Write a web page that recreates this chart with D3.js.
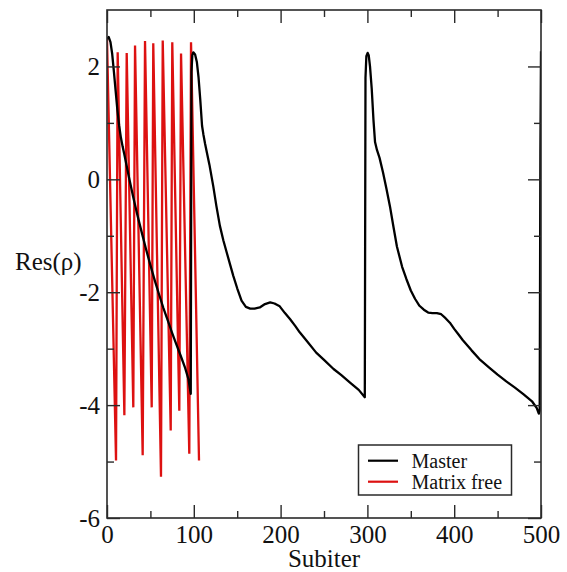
<!DOCTYPE html>
<html>
<head>
<meta charset="utf-8">
<script src="https://cdn.jsdelivr.net/npm/d3@7"></script>
<style>
  html, body { margin: 0; padding: 0; background: #fff; }
  svg { display: block; }
  text { font-family: "Liberation Serif", "Times New Roman", serif; fill: #111; }
</style>
</head>
<body>
<div id="chart"></div>
<script>
// ---- data ----
const masterX = [0, 2, 4, 6, 8, 10, 12, 14, 16, 18, 20, 25, 30, 35, 40, 45, 50, 55, 60, 65, 70, 75, 80, 85, 90, 94, 96.5,
  97.3, 98.3, 99.4, 101.5, 103.5, 105.5, 107.5, 109.5, 111, 113, 115, 118, 122.5, 126, 130, 134, 138, 142, 145.5, 150, 155, 160, 165, 170, 176, 182, 188, 193, 199, 205, 211, 217, 222, 230, 241, 250, 261, 270, 280, 290, 297,
  297.8, 298.8, 300.3, 301.5, 303, 305, 307, 308.8, 311, 314, 318, 322, 326, 330, 334, 340, 345, 350, 355, 360, 365, 370, 375, 380, 385, 390, 395, 400, 405, 410, 420, 430, 440, 450, 460, 470, 480, 490, 495, 497.5,
  498.5, 499.3, 500];
const masterY = [2.49, 2.52, 2.43, 2.22, 1.9, 1.56, 1.22, 0.95, 0.74, 0.58, 0.44, 0.06, -0.3, -0.63, -0.94, -1.24, -1.52, -1.79, -2.04, -2.28, -2.5, -2.72, -2.93, -3.13, -3.34, -3.55, -3.8,
  1.9, 2.2, 2.25, 2.21, 2.08, 1.8, 1.4, 0.95, 0.8, 0.63, 0.48, 0.26, -0.13, -0.47, -0.82, -1.08, -1.3, -1.52, -1.71, -1.93, -2.15, -2.26, -2.29, -2.29, -2.27, -2.21, -2.18, -2.2, -2.25, -2.37, -2.48, -2.6, -2.71, -2.86, -3.07, -3.2, -3.36, -3.47, -3.6, -3.73, -3.86,
  1.8, 2.18, 2.24, 2.2, 2.0, 1.6, 1.05, 0.66, 0.52, 0.38, 0.12, -0.17, -0.48, -0.84, -1.19, -1.55, -1.77, -1.97, -2.12, -2.24, -2.31, -2.36, -2.37, -2.37, -2.39, -2.46, -2.54, -2.65, -2.75, -2.85, -3.03, -3.2, -3.33, -3.46, -3.58, -3.69, -3.81, -3.94, -4.05, -4.15,
  -4.1, 0.5, 2.27];

const freeX = [0, 10.4, 12.3, 20, 22.7, 30.3, 32.3, 41.1, 43.8, 51.5, 53.3, 62.2, 64.2, 73.4, 75.2, 83.3, 85.3, 94.8, 96.8, 106];
const freeY = [2.5, -4.98, 2.25, -4.18, 2.24, -4.04, 2.37, -4.89, 2.45, -4.04, 2.41, -5.27, 2.46, -4.45, 2.43, -4.1, 2.23, -4.86, 2.43, -4.98];

const xMajor = [0, 100, 200, 300, 400, 500];
const xMinor = [50, 150, 250, 350, 450];
const yMajor = [-6, -4, -2, 0, 2];
const yMinor = [-5, -3, -1, 1];

const seriesNames = ["Master", "Matrix free"];
const seriesColors = ["#000000", "#dd1111"];

// ---- layout ----
const W = 567, H = 572;
const x = d3.scaleLinear().domain([0, 500]).range([107, 541]);
const y = d3.scaleLinear().domain([-6, 3]).range([518, 10]);

const svg = d3.select("#chart").append("svg").attr("width", W).attr("height", H);

svg.append("defs").append("clipPath").attr("id", "plotclip")
  .append("rect").attr("x", x(0)).attr("y", y(3)).attr("width", x(500) - x(0)).attr("height", y(-6) - y(3));

// series
const line = d3.line().x(d => x(d[0])).y(d => y(d[1]));
const plot = svg.append("g").attr("clip-path", "url(#plotclip)");
plot.append("path")
  .datum(freeX.map((v, i) => [v, freeY[i]]))
  .attr("d", line).attr("fill", "none")
  .attr("stroke", seriesColors[1]).attr("stroke-width", 2.3).attr("stroke-linejoin", "miter").attr("stroke-miterlimit", 20);
plot.append("path")
  .datum(masterX.map((v, i) => [v, masterY[i]]))
  .attr("d", line).attr("fill", "none")
  .attr("stroke", seriesColors[0]).attr("stroke-width", 2.3).attr("stroke-linejoin", "round");

// axes
const axisColor = "#2a2a2a";
function styleAxis(g) {
  g.select(".domain").remove();
  g.selectAll(".tick line").attr("stroke", axisColor).attr("stroke-width", 1.4);
  g.selectAll(".tick text").attr("font-size", 25).attr("fill", "#111")
    .attr("font-family", "'Liberation Serif', 'Times New Roman', serif");
}
const fmt = d => String(d);

svg.append("g").attr("transform", `translate(0,${y(-6)})`)
  .call(d3.axisBottom(x).tickValues(xMajor).tickFormat(fmt).tickSizeInner(-13).tickSizeOuter(0).tickPadding(7.5))
  .call(styleAxis);
svg.append("g").attr("transform", `translate(0,${y(-6)})`)
  .call(d3.axisBottom(x).tickValues(xMinor).tickFormat("").tickSizeInner(-7).tickSizeOuter(0))
  .call(styleAxis);
svg.append("g").attr("transform", `translate(0,${y(3)})`)
  .call(d3.axisTop(x).tickValues(xMajor).tickFormat("").tickSizeInner(-13).tickSizeOuter(0))
  .call(styleAxis);
svg.append("g").attr("transform", `translate(0,${y(3)})`)
  .call(d3.axisTop(x).tickValues(xMinor).tickFormat("").tickSizeInner(-7).tickSizeOuter(0))
  .call(styleAxis);

svg.append("g").attr("transform", `translate(${x(0)},0)`)
  .call(d3.axisLeft(y).tickValues(yMajor).tickFormat(fmt).tickSizeInner(-13).tickSizeOuter(0).tickPadding(7))
  .call(styleAxis);
svg.append("g").attr("transform", `translate(${x(0)},0)`)
  .call(d3.axisLeft(y).tickValues(yMinor).tickFormat("").tickSizeInner(-7).tickSizeOuter(0))
  .call(styleAxis);
svg.append("g").attr("transform", `translate(${x(500)},0)`)
  .call(d3.axisRight(y).tickValues(yMajor).tickFormat("").tickSizeInner(-13).tickSizeOuter(0))
  .call(styleAxis);
svg.append("g").attr("transform", `translate(${x(500)},0)`)
  .call(d3.axisRight(y).tickValues(yMinor).tickFormat("").tickSizeInner(-7).tickSizeOuter(0))
  .call(styleAxis);

// frame
svg.append("rect")
  .attr("x", x(0)).attr("y", y(3)).attr("width", x(500) - x(0)).attr("height", y(-6) - y(3))
  .attr("fill", "none").attr("stroke", axisColor).attr("stroke-width", 1.6);

// axis titles
svg.append("text").attr("x", (x(0) + x(500)) / 2).attr("y", 567)
  .attr("text-anchor", "middle").attr("font-size", 25).text("Subiter");
svg.append("text").attr("x", 15).attr("y", 270)
  .attr("text-anchor", "start").attr("font-size", 25).text("Res(ρ)");

// legend
const lg = svg.append("g");
lg.append("rect").attr("x", 358.5).attr("y", 445).attr("width", 153).attr("height", 50)
  .attr("fill", "#fff").attr("stroke", axisColor).attr("stroke-width", 1.5);
const legY = [460.7, 481.7];
seriesNames.forEach((name, i) => {
  lg.append("line").attr("x1", 368).attr("x2", 398).attr("y1", legY[i]).attr("y2", legY[i])
    .attr("stroke", seriesColors[i]).attr("stroke-width", 2.2);
  lg.append("text").attr("x", 411.5).attr("y", legY[i] + 7).attr("font-size", 20).text(name);
});
</script>
</body>
</html>
